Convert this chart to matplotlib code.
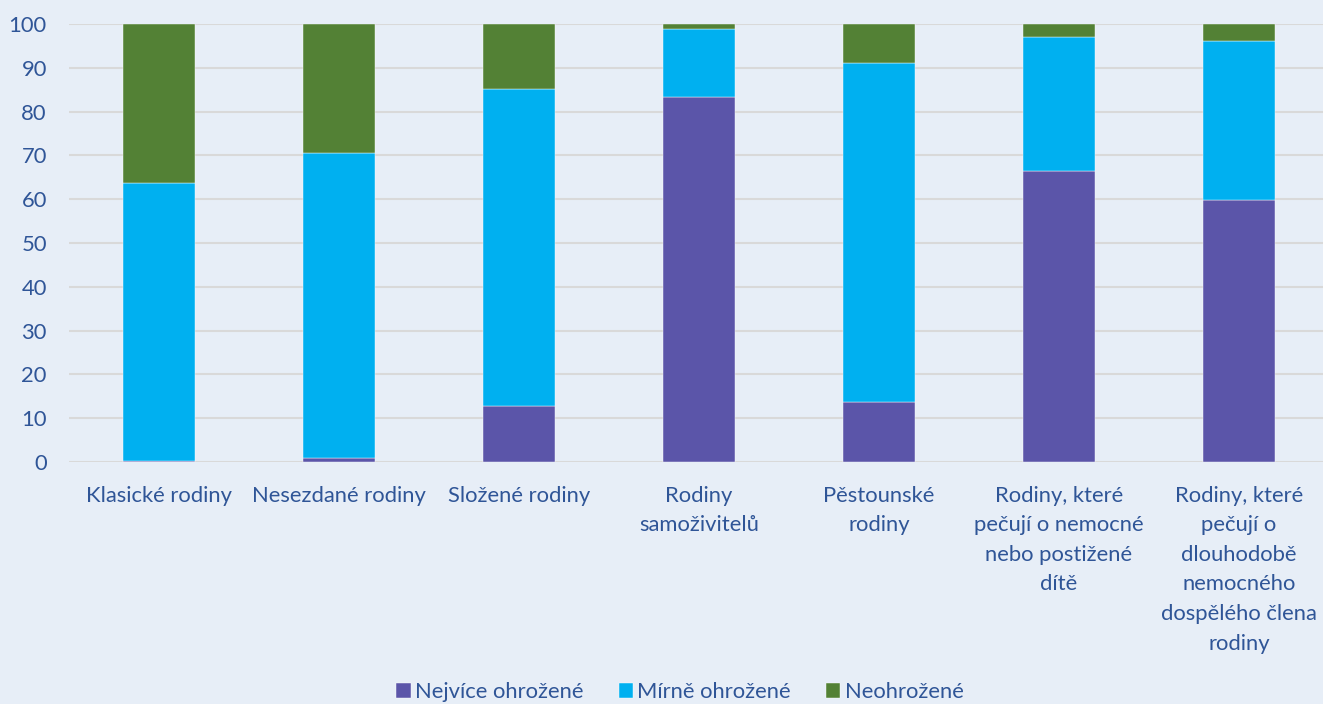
import numpy as np
import matplotlib.pyplot as plt

categories = [
    "Klasické rodiny",
    "Nesezdané rodiny",
    "Složené rodiny",
    "Rodiny\nsamoživitelů",
    "Pěstounské\nrodiny",
    "Rodiny, které\npečují o nemocné\nnebo postižené\ndítě",
    "Rodiny, které\npečují o\ndlouhodobě\nnemocného\ndospělého člena\nrodiny",
]
nejvice = [0.3, 1.0, 12.8, 83.3, 13.7, 66.5, 59.8]
mirne = [63.5, 69.6, 72.4, 15.6, 77.4, 30.6, 36.3]
neohrozene = [36.2, 29.4, 14.8, 1.1, 8.9, 2.9, 3.9]

BG = "#E7EEF7"
TEXT = "#2F5597"
COLORS = ["#5B55A9", "#00B0F0", "#538135"]

plt.rcParams["font.family"] = ["Lato", "DejaVu Sans"]

fig = plt.figure(figsize=(13.23, 7.04), dpi=100, facecolor=BG)
ax = fig.add_axes([69 / 1323, 242 / 704, 1260 / 1323, 438 / 704], facecolor=BG)

x = np.arange(len(categories))
w = 0.4
bottom = np.zeros(len(categories))
labels = ["Nejvíce ohrožené", "Mírně ohrožené", "Neohrožené"]
for vals, col, lab in zip([nejvice, mirne, neohrozene], COLORS, labels):
    ax.bar(x, vals, w, bottom=bottom, color=col, label=lab, zorder=3,
           edgecolor="white", linewidth=0.3)
    bottom += np.array(vals)

ax.set_xlim(-0.5, 6.5)
ax.set_ylim(0, 100)
ax.set_yticks(range(0, 101, 10))
ax.yaxis.grid(True, color="#D9D9D9", linewidth=1.5, zorder=0)
ax.set_xticks(x)
ax.set_xticklabels(categories, fontsize=15.8, color=TEXT, linespacing=1.6,
                   va="top")
ax.tick_params(axis="y", labelsize=15.8, labelcolor=TEXT, length=0, pad=16)
ax.tick_params(axis="x", length=0, pad=17)
for s in ax.spines.values():
    s.set_visible(False)

leg = fig.legend(loc="center", bbox_to_anchor=(0.514, 0.017), ncol=3,
                 frameon=False, fontsize=15.8, handlelength=0.65,
                 handleheight=0.65, handletextpad=0.2, columnspacing=1.6)
for t in leg.get_texts():
    t.set_color(TEXT)

fig.savefig("out.png", dpi=100, facecolor=BG)
